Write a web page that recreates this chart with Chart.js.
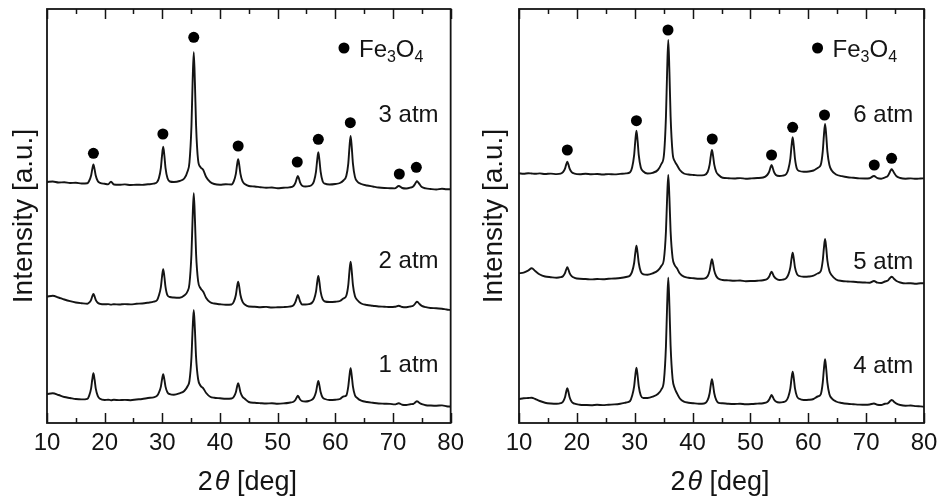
<!DOCTYPE html>
<html>
<head>
<meta charset="utf-8">
<script src="https://cdn.jsdelivr.net/npm/chart.js@4.4.1/dist/chart.umd.min.js"></script>
<style>
  html, body { margin: 0; padding: 0; background: #ffffff; }
  #wrap { position: relative; width: 945px; height: 501px; }
  #panelA { position: absolute; left: 0; top: 0; }
  #panelB { position: absolute; left: 470px; top: 0; }
</style>
</head>
<body>
<div id="wrap">
  <canvas id="panelA" width="470" height="501"></canvas>
  <canvas id="panelB" width="475" height="501"></canvas>
</div>
<script>
// ---- 2θ sampling, left panel (1–3 atm) ----
const thetaA = [
  10, 11, 12, 13, 14, 15, 16, 17,
  17.3, 17.65, 17.85, 18.05, 18.25, 18.45, 18.8, 19.2,
  20, 20.6, 21.1, 21.6, 22.5, 23.5, 24.5, 25.5, 26.5, 27.5, 28.5, 29.1,
  29.4, 29.75, 29.95, 30.15, 30.35, 30.55, 30.9, 31.3,
  32, 33, 33.8,
  34.4, 34.7, 35.05, 35.25, 35.45, 35.65, 35.85, 36.2, 36.6, 37.1, 37.6, 38.3,
  39, 40, 41, 42,
  42.4, 42.75, 42.95, 43.15, 43.35, 43.55, 43.9, 44.3,
  45, 46, 47, 48, 49, 50, 51, 52,
  52.75, 53.1, 53.3, 53.5, 53.7, 53.9, 54.25,
  54.8, 55.4, 56,
  56.3, 56.65, 56.85, 57.05, 57.25, 57.45, 57.8, 58.2,
  59, 60, 60.8, 61.4,
  61.9, 62.25, 62.45, 62.65, 62.85, 63.05, 63.4, 63.8,
  64.5, 65.5, 66.5, 67.5, 68.5, 69.5, 70.3,
  71.0, 71.6, 72.3, 73.0,
  73.5, 73.8, 74.0, 74.15, 74.35, 74.6, 75.0,
  75.7, 76.5, 77.5, 78.5, 79.3, 80
];

// stacked intensities (a.u., offset included)
const atm3 = [
  241, 241.5, 240.5, 240.8, 240, 240.3, 239.5, 239.8,
  242, 247.5, 253.9, 258.5, 253.9, 247.5, 242, 240.2,
  239.2, 238.6, 241.3, 238.5, 238.2, 238.6, 238, 238.3, 238.1, 238.7, 239.3, 241,
  244.7, 255.2, 267.6, 276.3, 267.6, 255.2, 244.7, 241.5,
  241, 242, 244.5,
  252, 260.5, 297, 340.5, 370.7, 340.5, 298, 263, 256, 253, 246, 241,
  239, 238.3, 238.8, 238.5,
  241.8, 249.1, 257.7, 263.7, 257.7, 249.1, 241.8, 239,
  237, 236.5, 235.8, 235.2, 235.5, 234.8, 235.3, 235.6,
  237, 240.3, 244.2, 247, 244.2, 240.3, 237.2,
  236.5, 236.8, 238.5,
  241.8, 251.4, 262.7, 270.7, 262.7, 251.4, 241.8, 239.3,
  238.5, 239, 240, 242.5,
  247, 259.7, 275.7, 287, 275.7, 259.7, 246.1, 241.5,
  239, 237.5, 236.5, 235.5, 235, 234.8, 234.6,
  237, 235, 234.5, 235.3,
  236.5, 238.8, 240.8, 241.7, 240.8, 238.8, 236,
  234.6, 234, 233.5, 234.2, 233.7, 233.8
];
const atm2 = [
  126.3, 127.3, 125.5, 123.5, 121.8, 120.5, 119.8, 119.3,
  120.3, 123.2, 126.6, 129, 126.6, 123.2, 120.3, 119.2,
  118.7, 118.9, 118.4, 118.8, 118.5, 118.9, 118.6, 119.2, 119.5, 120.3, 121.3, 123,
  127.4, 136.2, 146.5, 153.7, 146.5, 136.2, 127.6, 126,
  125.5, 125.3, 127.5,
  132, 139, 169, 204.5, 229.7, 204.5, 169.5, 142, 135, 131.3, 125, 120.7,
  119.5, 118.7, 118.2, 118.5,
  121.3, 128, 135.8, 141.3, 135.8, 128, 121.3, 118.5,
  116.5, 116.3, 115.8, 116.1, 115.5, 115.7, 115.9, 116.4,
  117.8, 121.3, 125, 128, 125, 121.5, 118.5,
  118.5, 118.8, 120.5,
  123.5, 131.3, 140.5, 147, 140.5, 131.3, 123.8, 121.5,
  121, 121.3, 122, 124.5,
  127.3, 138.2, 151.7, 161.3, 151.7, 138.2, 127, 123,
  119.5, 118, 117.3, 116.5, 116.3, 116, 116.2,
  117.3, 116, 115.8, 116.5,
  117.3, 119, 120.6, 121.3, 120.6, 119, 117.2,
  115.8, 115, 114.8, 114.2, 113.5, 113
];
const atm1 = [
  29, 29.7, 28, 26, 25, 24, 23.6, 24.2,
  27.2, 34.7, 43.5, 49.7, 43.5, 34.7, 27.2, 24.2,
  23, 23.3, 22.8, 23.2, 22.9, 23.1, 22.8, 23.5, 24, 25, 25.7, 27.3,
  30.3, 36.4, 43.6, 48.7, 43.6, 36.4, 30.5, 28.8,
  28.2, 29.7, 32,
  37, 42, 65.5, 93.5, 113, 93.5, 66, 44, 37.5, 34.7, 30, 26.3,
  25.2, 24.7, 24.2, 24.5,
  26.2, 30.7, 36, 39.7, 36, 30.7, 26.2, 24.2,
  21, 20.2, 19.8, 19.5, 19.7, 19.3, 19.6, 20.3,
  21.3, 23.3, 25.5, 27.3, 25.6, 23.5, 21.8,
  21.5, 22, 23.5,
  25.5, 31, 37.4, 42, 37.4, 31, 25.5, 24,
  23, 23.3, 24, 26.5,
  27.5, 36.6, 47.2, 54.7, 47.2, 36.6, 27.8, 25,
  22.3, 21, 20.2, 19.5, 19.3, 19.1, 18.6,
  19.8, 18.3, 18, 18.8,
  19, 20.3, 21.3, 21.8, 21.2, 20, 18.8,
  17.8, 17.5, 17.3, 17.6, 16.8, 16.3
];

// ---- 2θ sampling, right panel (4–6 atm) ----
const thetaB = [
  10, 10.8, 11.6, 12.2, 12.8, 13.6, 14.5, 15.5, 16.5, 17.2,
  17.6, 17.95, 18.15, 18.35, 18.55, 18.75, 19.1, 19.6,
  20.5, 21.5, 22.5, 23.5, 24.5, 25.5, 26.5, 27.5, 28.5, 29.2,
  29.55, 29.9, 30.1, 30.3, 30.5, 30.7, 31.05, 31.5,
  32.2, 33.1, 34.0,
  34.6, 35.05, 35.4, 35.6, 35.8, 36.0, 36.2, 36.55, 36.9, 37.3, 37.8, 38.5,
  39.3, 40.2, 41.1, 42.0,
  42.6, 42.95, 43.15, 43.35, 43.55, 43.75, 44.1, 44.5,
  45.2, 46.2, 47.2, 48.2, 49.2, 50.2, 51.2, 52.2,
  52.9, 53.25, 53.45, 53.65, 53.85, 54.05, 54.4,
  55.0, 55.6, 56.2,
  56.55, 56.9, 57.1, 57.3, 57.5, 57.7, 58.05, 58.45,
  59.2, 60.1, 60.9, 61.6,
  62.15, 62.5, 62.7, 62.9, 63.1, 63.3, 63.65, 64.05,
  64.8, 65.8, 66.8, 67.8, 68.8, 69.8, 70.6,
  71.35, 71.95, 72.6, 73.25,
  73.75, 74.05, 74.25, 74.4, 74.6, 74.85, 75.25,
  75.9, 76.8, 77.7, 78.6, 79.4, 80
];
const atm6 = [
  249.7, 249.3, 249.8, 249.5, 249.2, 249.6, 249, 249.4, 248.9, 249.3,
  250.8, 254.3, 258.4, 261.3, 258.4, 254.3, 250.8, 249.4,
  248.8, 249.2, 248.7, 249, 248.5, 248.9, 248.6, 249.1, 249.6, 250.8,
  255.5, 267.8, 282.1, 292.3, 282.1, 267.8, 255.5, 251.5,
  249.5, 250.2, 253,
  259, 268, 306.5, 351, 383, 351, 307, 270, 262, 258, 253, 249.5,
  248.5, 248, 247.6, 247.9,
  251, 258.3, 266.9, 273, 266.9, 258.3, 251, 248,
  245.2, 244.8, 244.5, 244.9, 244.3, 244.6, 245, 245.5,
  248, 251.3, 255.2, 258, 255.2, 251.3, 248,
  247, 247.3, 249,
  253.8, 264.4, 276.9, 285.7, 276.9, 264.4, 254, 252,
  251.3, 251.5, 252.5, 255,
  258.1, 271.7, 287.7, 299, 287.7, 271.7, 258, 252.5,
  248.5, 246.8, 245.7, 245.2, 244.6, 244.5, 244.8,
  247, 244.8, 244.3, 245.5,
  247.2, 250.3, 252.7, 253.7, 252.5, 250, 246.8,
  245, 244.3, 244.6, 244.2, 244.5, 244.7
];
const atm5 = [
  149.7, 150.3, 152.5, 154.7, 152, 148.5, 146.5, 145.8, 145.3, 145.8,
  146.8, 149.8, 153.3, 155.7, 153.3, 149.8, 146.8, 145.2,
  144.2, 144, 143.6, 144, 143.8, 144.2, 144.5, 145, 146, 147.5,
  151.4, 160, 170.1, 177.3, 170.1, 160, 151.4, 148.7,
  148.3, 149.7, 152.5,
  157, 164, 191.7, 224.7, 248, 224.7, 192, 165, 158, 154.7, 149.5, 146.3,
  145.2, 144.7, 144.2, 144.4,
  146.7, 152.4, 159, 163.7, 159, 152.4, 146.7, 144.2,
  143, 142.6, 142.2, 142.5, 141.8, 142, 142.3, 142.8,
  144, 146.5, 149.3, 151.3, 149.4, 146.8, 144.5,
  143, 143.3, 144.8,
  148.3, 155.6, 164.2, 170.3, 164.2, 155.6, 148.8, 147,
  146.3, 146.5, 147.3, 149.5,
  151.8, 162.5, 175.1, 184, 175.1, 162.5, 152, 147.8,
  143.5, 142, 141.5, 141.2, 140.7, 140.5, 140.3,
  142, 140.3, 140, 141.5,
  142.5, 144.5, 145.8, 146.3, 145.6, 144, 142,
  140.5, 139.6, 139.8, 139.3, 139.7, 139.7
];
const atm4 = [
  24, 24.7, 25, 25.3, 24, 22, 20.3, 19.5, 19.2, 19.8,
  21.2, 25.7, 31, 34.7, 31, 25.7, 21.2, 19.3,
  18.3, 18, 17.8, 18.2, 17.9, 18.3, 18.6, 19.3, 20.5, 22,
  27.2, 36.6, 47.5, 55.3, 47.5, 36.6, 27.5, 25,
  25, 26.3, 29,
  33.5, 42.5, 77, 117, 145.3, 117, 77.5, 44, 35, 29.7, 24.5, 21.3,
  20.3, 19.7, 19.3, 19.5,
  22.8, 29.8, 37.9, 43.7, 37.9, 29.8, 22.8, 20.2,
  19.7, 19.2, 19, 19.3, 18.8, 19, 19.4, 19.8,
  21, 23.5, 26, 28, 26.2, 23.8, 21.5,
  20.5, 20.8, 22.3,
  26.2, 34.6, 44.4, 51.3, 44.4, 34.6, 26.5, 24.2,
  23, 23.2, 24, 26.5,
  28.7, 40.4, 54, 63.7, 54, 40.4, 28.8, 24.7,
  21.5, 20, 19.2, 18.8, 18.4, 18.2, 18.5,
  19.5, 18.2, 18, 19.3,
  19.7, 21.3, 22.5, 23, 22.4, 21, 19.3,
  18, 17.3, 17.5, 16.9, 16.6, 16.3
];

// Fe3O4 reflections marked above the top pattern of each panel
const peaksA = [18.05, 30.1, 35.45, 43.15, 53.4, 57.05, 62.6, 71.1, 74.05];
const markA  = [269.7, 289, 385.7, 277, 261, 283.7, 300.3, 249, 255.7];
const peaksB = [18.35, 30.3, 35.75, 43.4, 53.65, 57.3, 62.8, 71.4, 74.4];
const markB  = [273, 302.3, 393, 284, 268, 295.7, 308, 258, 264.7];

// axis ticks and text
const xMajor = [10, 20, 30, 40, 50, 60, 70, 80];
const xMinor = [15, 25, 35, 45, 55, 65, 75];
const namesA = ['3 atm', '2 atm', '1 atm'];
const namesB = ['6 atm', '5 atm', '4 atm'];
const yTitle = 'Intensity [a.u.]';
const xTitleParts = ['2', 'θ', ' [deg]'];
const phaseParts = [['Fe', false], ['3', true], ['O', false], ['4', true]];

const FONT = '"Liberation Sans", Arial, Helvetica, sans-serif';
const INK = '#141414';

// frame, inward ticks, trace names, phase key and x title
const decorPlugin = {
  id: 'decor',
  afterDatasetsDraw(chart, args, o) {
    const { ctx, chartArea: a, scales: { x, y } } = chart;
    ctx.save();
    ctx.strokeStyle = INK;
    ctx.lineWidth = 1.8;
    ctx.strokeRect(a.left, a.top, a.right - a.left, a.bottom - a.top);

    ctx.lineWidth = 1.5;
    ctx.beginPath();
    xMajor.forEach(v => {
      const px = Math.round(x.getPixelForValue(v)) + 0.5;
      ctx.moveTo(px, a.bottom); ctx.lineTo(px, a.bottom - 10);
      ctx.moveTo(px, a.top); ctx.lineTo(px, a.top + 10);
    });
    xMinor.forEach(v => {
      const px = Math.round(x.getPixelForValue(v)) + 0.5;
      ctx.moveTo(px, a.bottom); ctx.lineTo(px, a.bottom - 5);
      ctx.moveTo(px, a.top); ctx.lineTo(px, a.top + 5);
    });
    ctx.stroke();

    // pressure names
    ctx.fillStyle = INK;
    ctx.font = '24px ' + FONT;
    ctx.textAlign = 'right';
    ctx.textBaseline = 'alphabetic';
    o.names.forEach((t, i) => {
      ctx.fillText(t, x.getPixelForValue(o.nameX), y.getPixelForValue(o.nameY[i]));
    });

    // phase key: dot + Fe3O4
    ctx.fillStyle = '#000';
    ctx.beginPath();
    ctx.arc(x.getPixelForValue(o.keyDot[0]), y.getPixelForValue(o.keyDot[1]), 5.5, 0, Math.PI * 2);
    ctx.fill();
    ctx.fillStyle = INK;
    ctx.textAlign = 'left';
    let cx = x.getPixelForValue(o.keyText[0]);
    const by = y.getPixelForValue(o.keyText[1]);
    phaseParts.forEach(([t, sub]) => {
      ctx.font = (sub ? '16px ' : '24px ') + FONT;
      ctx.fillText(t, cx, sub ? by + 4.5 : by);
      cx += ctx.measureText(t).width;
    });

    // x title with italic theta
    const fonts = ['27px ' + FONT, 'italic 27px ' + FONT, '27px ' + FONT];
    const gaps = [0, 2, 0];
    let total = 0;
    const widths = xTitleParts.map((t, i) => {
      ctx.font = fonts[i];
      const w = ctx.measureText(t).width;
      total += w + gaps[i];
      return w;
    });
    let tx = (a.left + a.right) / 2 - 1.5 - total / 2;
    xTitleParts.forEach((t, i) => {
      ctx.font = fonts[i];
      tx += gaps[i];
      ctx.fillText(t, tx, a.bottom + 67);
      tx += widths[i];
    });
    ctx.restore();
  }
};

function buildPanel(id, theta, series, peaks, marks, layoutOpts, decor) {
  const datasets = series.map(s => ({
    type: 'line',
    data: theta.map((t, i) => ({ x: t, y: s[i] })),
    borderColor: INK,
    borderWidth: 1.9,
    pointRadius: 0,
    cubicInterpolationMode: 'monotone',
    fill: false
  }));
  datasets.push({
    type: 'scatter',
    data: peaks.map((t, i) => ({ x: t, y: marks[i] })),
    pointRadius: 5.5,
    pointBackgroundColor: '#000',
    pointBorderWidth: 0,
    showLine: false
  });
  return new Chart(document.getElementById(id), {
    type: 'line',
    data: { datasets },
    options: {
      responsive: false,
      animation: false,
      events: [],
      layout: { padding: { top: 9, right: layoutOpts.padRight, left: 0, bottom: 0 } },
      plugins: { legend: { display: false }, tooltip: { enabled: false }, decor },
      scales: {
        x: {
          type: 'linear', min: 10, max: 80, position: 'bottom',
          grid: { display: false, drawTicks: false },
          border: { display: false },
          ticks: { stepSize: 10, autoSkip: false, maxRotation: 0, padding: 6, color: INK,
                   font: { family: FONT, size: 24 } },
          afterFit(s) { s.height = 78; }
        },
        y: {
          type: 'linear', min: 0, max: 414,
          grid: { display: false, drawTicks: false },
          border: { display: false },
          ticks: { display: false },
          title: { display: true, text: yTitle, color: INK,
                   font: { family: FONT, size: 28 }, padding: { top: 7, bottom: 0 } },
          afterFit(s) { s.width = layoutOpts.yWidth; }
        }
      }
    },
    plugins: [decorPlugin]
  });
}

buildPanel('panelA', thetaA, [atm3, atm2, atm1], peaksA, markA,
  { padRight: 18, yWidth: 47 },
  { names: namesA, nameX: 77.9, nameY: [301.3, 154.7, 50.7],
    keyDot: [61.5, 375], keyText: [64.1, 365.7] });

buildPanel('panelB', thetaB, [atm6, atm5, atm4], peaksB, markB,
  { padRight: 21, yWidth: 49 },
  { names: namesB, nameX: 78.15, nameY: [301.3, 153.7, 49.7],
    keyDot: [61.6, 375], keyText: [64.2, 365.7] });
</script>
</body>
</html>
